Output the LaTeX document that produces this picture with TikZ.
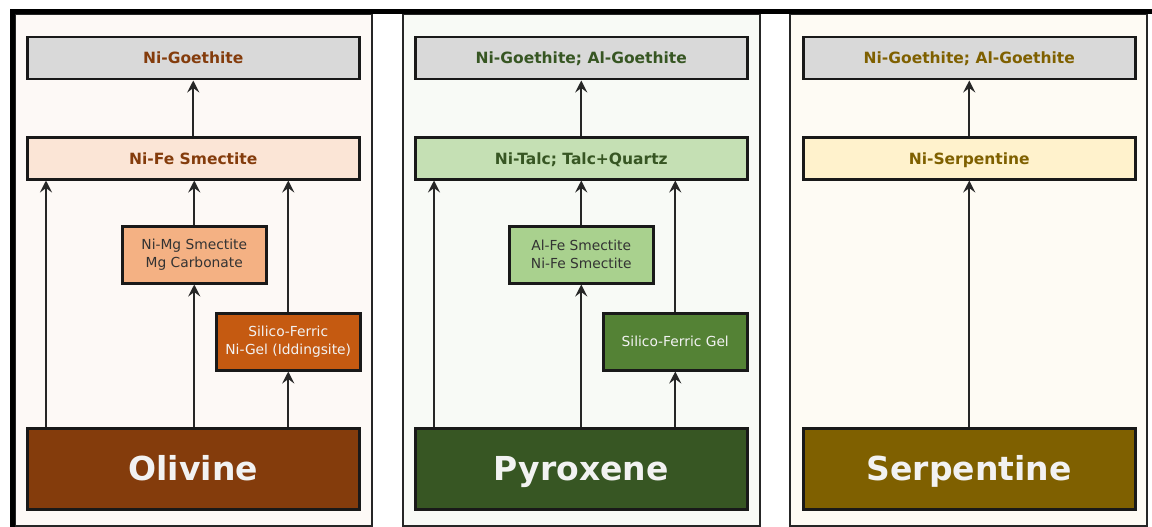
\documentclass[tikz,border=0pt]{standalone}
\usepackage{fontspec}
\setmainfont{DejaVu Sans}
\usetikzlibrary{arrows.meta,positioning,calc}
\definecolor{goegray}{HTML}{D9D9D9}
\definecolor{olivtext}{HTML}{843C0C}
\definecolor{olivlight}{HTML}{FBE5D6}
\definecolor{olivmid}{HTML}{F4B183}
\definecolor{olivdark}{HTML}{C55A11}
\definecolor{olivbg}{HTML}{FDF9F6}
\definecolor{pyrotext}{HTML}{375623}
\definecolor{pyrolight}{HTML}{C5E0B4}
\definecolor{pyromid}{HTML}{A9D18E}
\definecolor{pyrodark}{HTML}{548235}
\definecolor{pyrobg}{HTML}{F8FAF6}
\definecolor{serptext}{HTML}{7F6000}
\definecolor{serplight}{HTML}{FFF2CC}
\definecolor{serpbg}{HTML}{FEFBF4}
\definecolor{lighttext}{HTML}{F2F2F2}
\definecolor{subtext}{HTML}{333333}
\tikzset{
	panel/.style={draw=black!85, line width=2.8pt},
	mbox/.style={draw=black!90, line width=2.5pt, inner sep=0pt, anchor=north west, align=center},
	wide/.style={mbox, minimum width=332pt, minimum height=42pt, text height=11.5pt, text depth=0pt, font=\bfseries\fontsize{15.5}{18}\selectfont},
	sub/.style={mbox, minimum width=144pt, minimum height=57pt, text=subtext, font=\fontsize{13.8}{18}\selectfont},
	rock/.style={mbox, minimum width=332pt, minimum height=81pt, text height=24pt, text depth=0pt, text=lighttext, font=\bfseries\fontsize{33}{40}\selectfont},
	trans/.style={draw=black!85, line width=1.8pt, -{Stealth[length=12pt,width=12pt,inset=4.5pt]}},
	>=Stealth
}

\begin{document}
\begin{tikzpicture}[x=1pt,y=-1pt]
	\newcommand{\olivx}{0}
	\newcommand{\pyrox}{388}
	\newcommand{\serpx}{776}
	\useasboundingbox (0,0) rectangle (1152,527);
	% panels
	\draw[panel, fill=olivbg] (\olivx+15,14) rectangle (\olivx+372,526);
	\draw[panel, fill=pyrobg] (\pyrox+15,14) rectangle (\pyrox+372,526);
	\draw[panel, fill=serpbg] (\serpx+14,14) rectangle (\serpx+371,526);
	\draw[line width=5pt] (12,540) -- (12,12) -- (1170,12);
	
	% olivine
	\node[wide, fill=goegray, text=olivtext] (olgoe) at (\olivx+26,36) {Ni-Goethite};
	\node[wide, fill=olivlight, text=olivtext] (olsme) at (\olivx+26,136) {Ni-Fe Smectite};
	\node[sub, fill=olivmid] (olnimg) at (\olivx+121,225) {Ni-Mg Smectite\\Mg Carbonate};
	\node[sub, fill=olivdark, text=lighttext] (olsil) at (\olivx+215,312) {Silico-Ferric\\Ni-Gel (Iddingsite)};
	\node[rock, fill=olivtext] (olrock) at (\olivx+26,427) {Olivine};
	\draw[trans] ([xshift=20pt]olrock.north west) -- ([xshift=20pt]olsme.south west);
	\draw[trans] (olrock.north -| olnimg.south) -- (olnimg.south);
	\draw[trans] (olnimg.north) -- (olnimg.north |- olsme.south);
	\draw[trans] (olrock.north -| olsil.south) -- (olsil.south);
	\draw[trans] (olsil.north) -- (olsil.north |- olsme.south);
	\draw[trans] (olsme.north) -- (olgoe.south);
	
	% pyroxene
	\node[wide, fill=goegray, text=pyrotext] (pygoe) at (\pyrox+26,36) {Ni-Goethite; Al-Goethite};
	\node[wide, fill=pyrolight, text=pyrotext] (pytalc) at (\pyrox+26,136) {Ni-Talc; Talc+Quartz};
	\node[sub, fill=pyromid] (pyalfe) at (\pyrox+120,225) {Al-Fe Smectite\\Ni-Fe Smectite};
	\node[sub, fill=pyrodark, text=lighttext] (pysil) at (\pyrox+214,312) {Silico-Ferric Gel};
	\node[rock, fill=pyrotext] (pyrock) at (\pyrox+26,427) {Pyroxene};
	\draw[trans] ([xshift=20pt]pyrock.north west) -- ([xshift=20pt]pytalc.south west);
	\draw[trans] (pyrock.north -| pyalfe.south) -- (pyalfe.south);
	\draw[trans] (pyalfe.north) -- (pyalfe.north |- pytalc.south);
	\draw[trans] (pyrock.north -| pysil.south) -- (pysil.south);
	\draw[trans] (pysil.north) -- (pysil.north |- pytalc.south);
	\draw[trans] (pytalc.north) -- (pygoe.south);
	
	% serpentine
	\node[wide, fill=goegray, text=serptext] (segoe) at (\serpx+26,36) {Ni-Goethite; Al-Goethite};
	\node[wide, fill=serplight, text=serptext] (seserp) at (\serpx+26,136) {Ni-Serpentine};
	\node[rock, fill=serptext] (serock) at (\serpx+26,427) {Serpentine};
	\draw[trans] (serock.north) -- (seserp.south);
	\draw[trans] (seserp.north) -- (segoe.south);
\end{tikzpicture}
\end{document}
